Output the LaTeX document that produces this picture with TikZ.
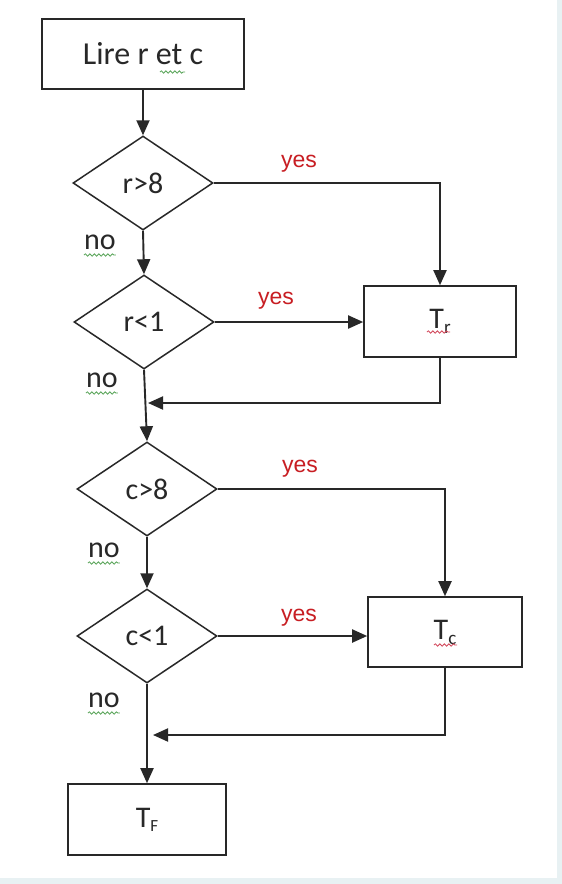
\documentclass[tikz,border=0pt]{standalone}
\usepackage{fontspec}
\setmainfont{Carlito}
\newfontfamily\yesfont{Liberation Sans}
\usetikzlibrary{shapes.geometric,arrows.meta,decorations.pathmorphing}
\definecolor{lnc}{RGB}{40,40,40}
\definecolor{yesred}{RGB}{200,30,35}
\definecolor{stripe}{RGB}{232,241,243}
\definecolor{sqgreen}{RGB}{90,165,90}
\definecolor{sqred}{RGB}{210,70,90}
\begin{document}
\begin{tikzpicture}[x=1pt,y=-1pt,
  box/.style={draw=lnc,line width=1.6pt,rectangle,inner sep=0pt,text=lnc,font=\fontsize{30}{30}\selectfont},
  dia/.style={draw=lnc,line width=1.5pt,diamond,inner sep=0pt,text=lnc,font=\fontsize{30}{30}\selectfont,minimum width=140pt,minimum height=94pt},
  arr/.style={draw=lnc,line width=1.9pt,-{Triangle[length=15pt,width=13pt]}},
  yeslbl/.style={text=yesred,font=\yesfont\fontsize{23}{23}\selectfont,anchor=base west,inner sep=0pt},
  nolbl/.style={text=lnc,font=\fontsize{30}{30}\selectfont,anchor=base west,inner sep=0pt},
  sqg/.style={draw=sqgreen,line width=0.8pt,decorate,decoration={snake,amplitude=1.2pt,segment length=4.5pt}},
  sqr/.style={draw=sqred,line width=0.8pt,decorate,decoration={snake,amplitude=1.2pt,segment length=4.5pt}}
]
\useasboundingbox (0,0) rectangle (562,884);
\fill[white] (0,0) rectangle (562,884);
\fill[stripe] (557,0) rectangle (562,884);
\fill[stripe] (0,878) rectangle (562,884);

% nodes
\node[box,minimum width=202pt,minimum height=70pt,font=\fontsize{32}{32}\selectfont] (start) at (143,54) {Lire r et c};
\node[dia] (d1) at (143,183) {r>8};
\node[dia] (d2) at (144,322) {r<1};
\node[box,minimum width=152pt,minimum height=71pt] (tr) at (440,321.5) {T\raisebox{-5pt}{\fontsize{19}{19}\selectfont r}};
\node[dia] (d3) at (147,489) {c>8};
\node[dia] (d4) at (147,636) {c<1};
\node[box,minimum width=154pt,minimum height=70pt] (tc) at (445,632) {T\raisebox{-5pt}{\fontsize{19}{19}\selectfont c}};
\node[box,minimum width=158pt,minimum height=71pt] (tf) at (147,819.5) {T\raisebox{-4pt}{\fontsize{17}{17}\selectfont F}};

\coordinate (j1) at (145,403);
\coordinate (j2) at (147,735);

% connectors
\draw[arr] (start.south) -- (d1.north);
\draw[arr] (d1.east) -| (tr.north);
\draw[arr] (d1.south) -- (d2.north);
\draw[arr] (d2.east) -- (d2.east -| tr.west);
\draw[arr,shorten >=3pt] (tr.south) |- (j1);
\draw[arr] (d2.south) -- (d3.north);
\draw[arr] (d3.east) -| (tc.north);
\draw[arr] (d3.south) -- (d4.north);
\draw[arr] (d4.east) -- (d4.east -| tc.west);
\draw[arr,shorten >=6pt] (tc.south) |- (j2);
\draw[arr] (d4.south) -- (tf.north);

% labels
\node[yeslbl] (y1) at (281,167) {yes};
\node[yeslbl] (y2) at (258,304) {yes};
\node[yeslbl] (y3) at (282,472) {yes};
\node[yeslbl] (y4) at (281,621) {yes};
\node[nolbl] (n1) at (84,249) {no};
\node[nolbl] (n2) at (86,387) {no};
\node[nolbl] (n3) at (88,557) {no};
\node[nolbl] (n4) at (88,707) {no};

% spell-check squiggles
\draw[sqg] ([shift={(17,18)}]start.center) -- ([shift={(42,18)}]start.center);
\foreach \n in {n1,n2,n3,n4}{
  \draw[sqg] ([yshift=-6pt]\n.base west) -- ([yshift=-6pt]\n.base east);
}
\draw[sqr] ([shift={(-13,10.5)}]tr.center) -- ([shift={(10,10.5)}]tr.center);
\draw[sqr] ([shift={(-11,13)}]tc.center) -- ([shift={(12,13)}]tc.center);
\end{tikzpicture}
\end{document}
